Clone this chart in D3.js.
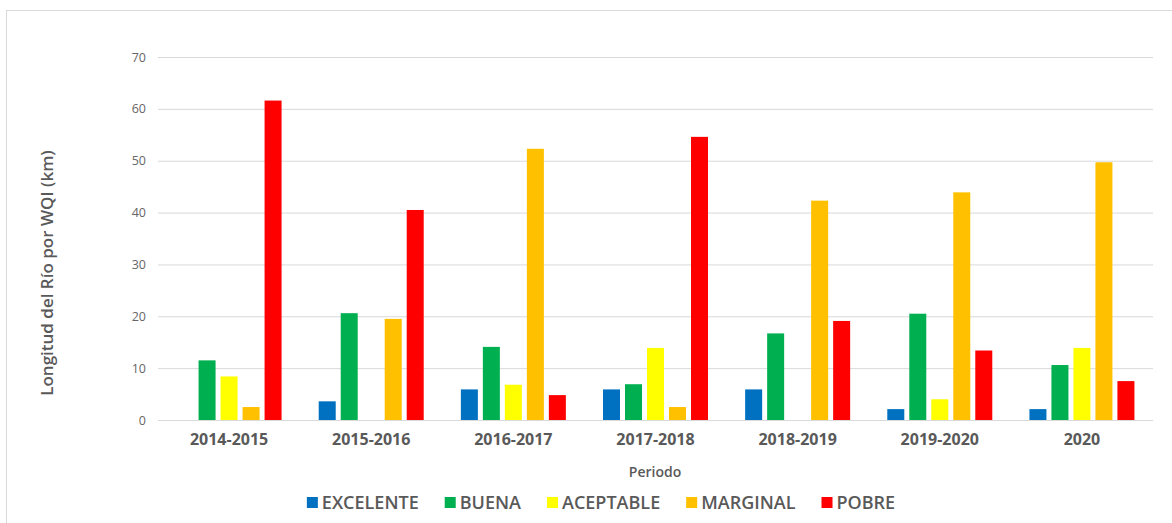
<!DOCTYPE html>
<html>
<head>
<meta charset="utf-8">
<script src="https://cdn.jsdelivr.net/npm/d3@7"></script>
<style>
  body { margin: 0; background: #fff; }
  text { font-family: "Open Sans", sans-serif; }
</style>
</head>
<body>
<div id="chart"></div>
<script>
const periods = ['2014-2015', '2015-2016', '2016-2017', '2017-2018', '2018-2019', '2019-2020', '2020']
const series = ['EXCELENTE', 'BUENA', 'ACEPTABLE', 'MARGINAL', 'POBRE']
const excelente = [0, 3.6, 5.9, 5.9, 5.9, 2.1, 2.1]
const buena     = [11.5, 20.6, 14.1, 6.9, 16.7, 20.5, 10.6]
const aceptable = [8.4, 0, 6.8, 13.9, 0, 4.0, 13.9]
const marginal  = [2.5, 19.5, 52.3, 2.5, 42.3, 43.9, 49.7]
const pobre     = [61.6, 40.5, 4.8, 54.6, 19.1, 13.4, 7.5]
const yTicks = [0, 10, 20, 30, 40, 50, 60, 70]
const colors = ['#0070C0', '#00B050', '#FFFF00', '#FFC000', '#FF0000']

const values = [excelente, buena, aceptable, marginal, pobre]

const W = 1172, H = 523
const m = {left: 158, right: 19, top: 57, bottom: 103}
const w = W - m.left - m.right
const h = H - m.top - m.bottom

const svg = d3.select('#chart')
              .append('svg')
              .attr('width', W)
              .attr('height', H)

// chart border
svg.append('rect')
    .attr('x', 6.5).attr('y', 10.5)
    .attr('width', 1200).attr('height', 600)
    .attr('fill', 'none')
    .attr('stroke', '#d9d9d9')

const g = svg.append('g')
             .attr('transform', `translate(${m.left}, ${m.top})`)

// Scales
const x0 = d3.scaleBand()
             .domain(periods)
             .range([0, w])
             .padding(0)

const x1 = d3.scaleBand()
             .domain(series)
             .range([-52.5, 52.5])
             .paddingInner(0.227)
             .paddingOuter(0)

const yScale = d3.scaleLinear()
                 .domain([0, 70])
                 .range([h, 0])

// Y axis with gridlines
const yAxis = d3.axisLeft(yScale)
                .tickValues(yTicks)
                .tickSize(-w)
                .tickPadding(12)

const ya = g.append('g')
    .classed('y axis', true)
    .call(yAxis)
ya.select('.domain').remove()
ya.selectAll('line').attr('stroke', '#d9d9d9')
ya.selectAll('text')
    .attr('fill', '#666')
    .style('font-size', '12.5px')

// X axis labels
const xAxis = d3.axisBottom(x0).tickSize(0).tickPadding(14)
const xa = g.append('g')
    .classed('x axis', true)
    .attr('transform', `translate(0, ${h})`)
    .call(xAxis)
xa.select('.domain').remove()
xa.selectAll('text')
    .attr('fill', '#595959')
    .style('font-size', '16px')
    .style('font-weight', 700)

// Bars
const rows = []
periods.forEach((p, i) => {
    series.forEach((s, j) => {
        rows.push({period: p, key: s, value: values[j][i], color: colors[j]})
    })
})

g.selectAll('rect.bar')
    .data(rows).enter()
    .append('rect')
        .attr('class', 'bar')
        .attr('x', d => x0(d.period) + x0.bandwidth() / 2 + x1(d.key))
        .attr('y', d => yScale(d.value))
        .attr('width', x1.bandwidth())
        .attr('height', d => h - yScale(d.value))
        .attr('fill', d => d.color)

// Axis titles
svg.append('text')
    .attr('x', 655)
    .attr('y', 477)
    .attr('text-anchor', 'middle')
    .attr('fill', '#595959')
    .style('font-size', '14px')
    .style('font-weight', 600)
    .text('Periodo')

svg.append('text')
    .attr('transform', 'translate(53, 273) rotate(-90)')
    .attr('text-anchor', 'middle')
    .attr('fill', '#595959')
    .style('font-size', '17px')
    .style('font-weight', 600)
    .text('Longitud del Río por WQI (km)')

// Legend
const legend = svg.append('g')
const items = legend.selectAll('g')
    .data(series).enter()
    .append('g')

items.append('rect')
    .attr('width', 11).attr('height', 11)
    .attr('y', -12)
    .attr('fill', (d, i) => colors[i])

items.append('text')
    .attr('x', 15)
    .attr('fill', '#595959')
    .style('font-size', '18px')
    .style('font-weight', 600)
    .text(d => d)

let cx = 0
items.each(function () {
    const tw = d3.select(this).select('text').node().getComputedTextLength()
    d3.select(this).attr('transform', `translate(${cx}, 0)`)
    cx += 15 + tw + 26
})
const total = cx - 26
legend.attr('transform', `translate(${601 - total / 2}, 509)`)
</script>
</body>
</html>
